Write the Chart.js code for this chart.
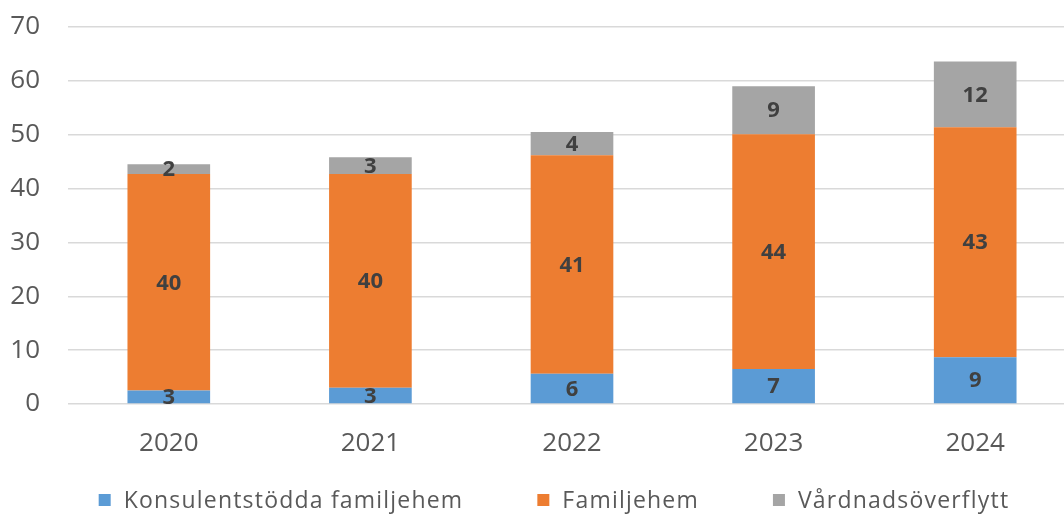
<!DOCTYPE html>
<html>
<head>
<meta charset="utf-8">
<script src="https://cdn.jsdelivr.net/npm/chart.js@4"></script>
<style>
  html, body { margin: 0; padding: 0; background: #fff; overflow: hidden; }
  #wrap { width: 1108px; height: 518px; }
</style>
</head>
<body>
<div id="wrap"><canvas id="myChart" width="1108" height="518"></canvas></div>
<script>
const years = ["2020", "2021", "2022", "2023", "2024"];
const seriesNames = ["Konsulentstödda familjehem", "Familjehem", "Vårdnadsöverflytt"];
const konsulent = [2.5, 3.0, 5.6, 6.5, 8.7];
const familjehem = [40.2, 39.7, 40.6, 43.6, 42.7];
const vardnad = [1.8, 3.1, 4.3, 8.9, 12.2];
const yTicks = [0, 10, 20, 30, 40, 50, 60, 70];

const colors = ["#5B9BD5", "#ED7D31", "#A5A5A5"];
const FONT = "'Open Sans', 'Noto Sans', sans-serif";

// value labels centered in each segment
const segmentLabels = {
  id: "segmentLabels",
  afterDatasetsDraw(chart) {
    const ctx = chart.ctx;
    ctx.save();
    ctx.font = "bold 22px " + FONT;
    ctx.fillStyle = "#404040";
    ctx.textAlign = "center";
    ctx.textBaseline = "middle";
    chart.data.datasets.forEach((ds, i) => {
      chart.getDatasetMeta(i).data.forEach((bar, j) => {
        const v = Math.round(ds.data[j]);
        ctx.fillText(String(v), bar.x, (bar.y + bar.base) / 2 + 1);
      });
    });
    ctx.restore();
  },
};

// legend drawn by hand so the spacing can follow the reference
const bottomLegend = {
  id: "bottomLegend",
  afterDraw(chart) {
    const ctx = chart.ctx;
    const box = 12, gapText = 13, gapItem = 74, cx = 554, cy = 500;
    ctx.save();
    ctx.font = "23px " + FONT;
    ctx.letterSpacing = "1.2px";
    const widths = chart.data.datasets.map(ds => ctx.measureText(ds.label).width);
    let total = 0;
    widths.forEach((w, i) => { total += box + gapText + w + (i ? gapItem : 0); });
    let x = cx - total / 2;
    chart.data.datasets.forEach((ds, i) => {
      ctx.fillStyle = ds.backgroundColor;
      ctx.fillRect(x, cy - box / 2, box, box);
      ctx.fillStyle = "#595959";
      ctx.textAlign = "left";
      ctx.textBaseline = "middle";
      ctx.fillText(ds.label, x + box + gapText, cy + 1);
      x += box + gapText + widths[i] + gapItem;
    });
    ctx.restore();
  },
};

new Chart(document.getElementById("myChart"), {
  type: "bar",
  data: {
    labels: years,
    datasets: [
      { label: seriesNames[0], data: konsulent, backgroundColor: colors[0] },
      { label: seriesNames[1], data: familjehem, backgroundColor: colors[1] },
      { label: seriesNames[2], data: vardnad, backgroundColor: colors[2] },
    ],
  },
  options: {
    responsive: false,
    animation: false,
    layout: { padding: { left: 0, right: 32, top: 27, bottom: 0 } },
    datasets: {
      bar: { categoryPercentage: 1, barPercentage: 0.41 },
    },
    scales: {
      x: {
        stacked: true,
        afterFit(scale) {
          scale.height = 114;
          scale.paddingLeft = 0;
          scale.paddingRight = 0;
        },
        grid: { display: false },
        border: { display: false },
        ticks: { color: "#595959", font: { family: FONT, size: 26 }, padding: 16 },
      },
      y: {
        stacked: true,
        min: 0,
        max: 70,
        afterFit(scale) {
          scale.width = 68;
          scale.paddingTop = 0;
          scale.paddingBottom = 0;
        },
        afterBuildTicks(scale) { scale.ticks = yTicks.map(v => ({ value: v })); },
        border: { display: false },
        grid: { color: "#d9d9d9", lineWidth: 1.5, drawTicks: false },
        ticks: { color: "#595959", font: { family: FONT, size: 26 }, padding: 28 },
      },
    },
    plugins: {
      legend: { display: false },
      tooltip: { enabled: false },
    },
  },
  plugins: [segmentLabels, bottomLegend],
});
</script>
</body>
</html>
